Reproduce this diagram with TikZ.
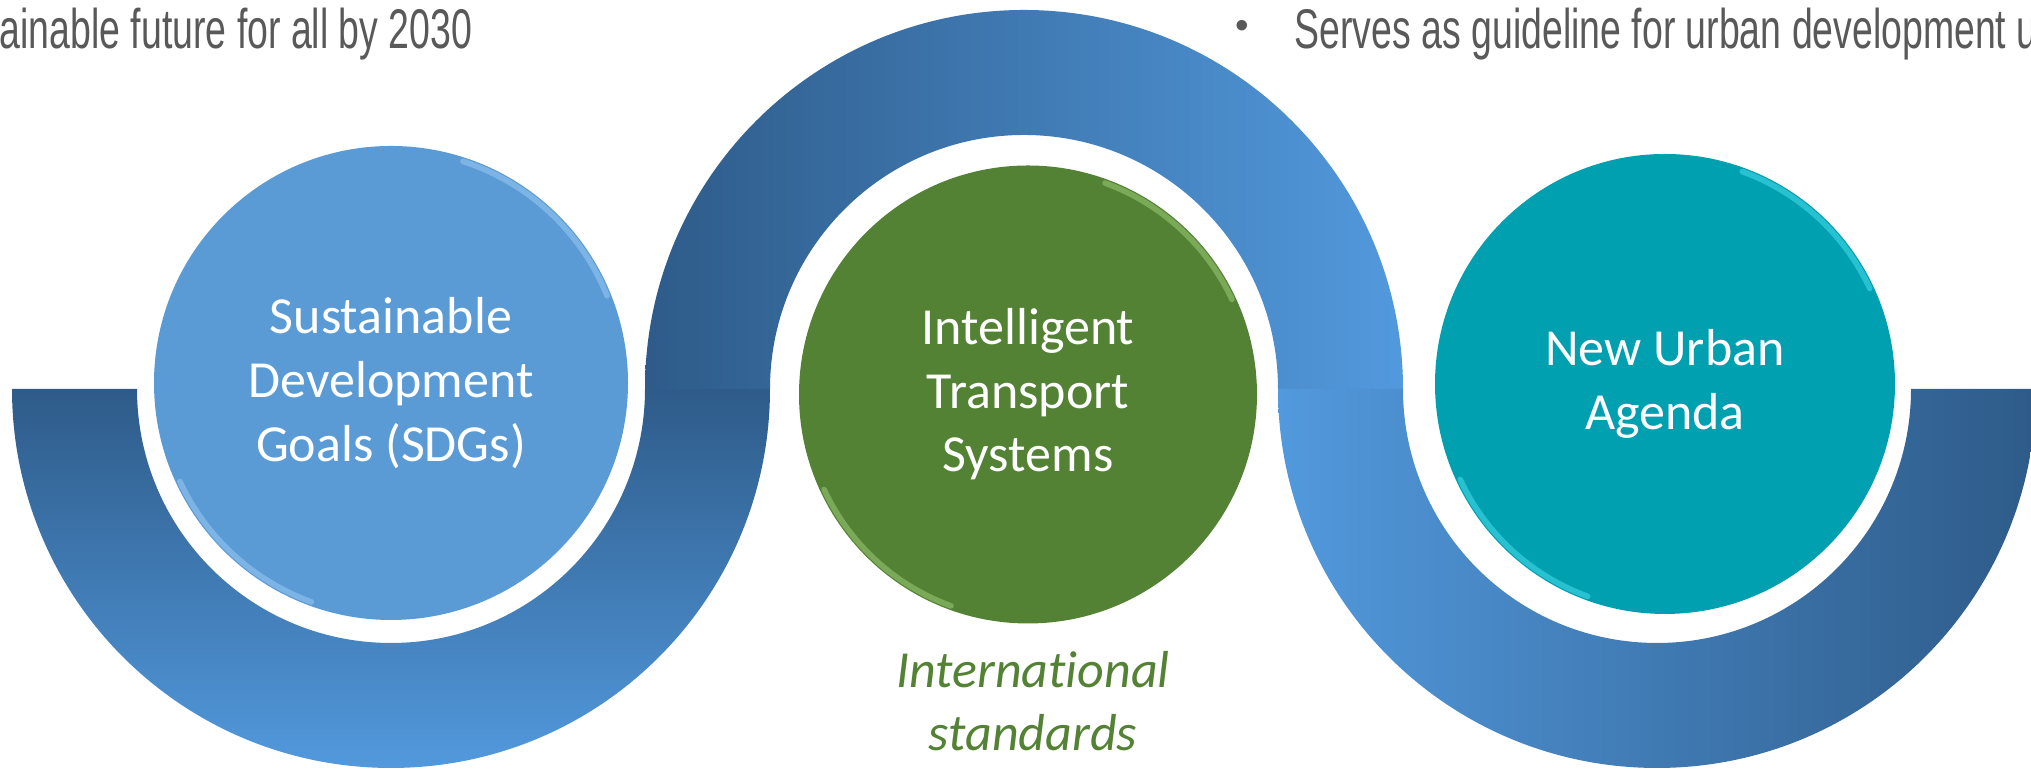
\documentclass[tikz,border=0pt]{standalone}
\usepackage{fontspec}
\setmainfont[Ligatures=CommonOff]{Carlito}
\newfontfamily\headfont[FakeStretch=0.67]{Liberation Sans}
\newfontfamily\dotfont{Liberation Sans}
\definecolor{ringdark}{RGB}{46,91,137}
\definecolor{ringlight}{RGB}{82,153,221}
\definecolor{sdgblue}{RGB}{91,155,213}
\definecolor{sdglight}{RGB}{160,205,248}
\definecolor{itsgreen}{RGB}{84,130,53}
\definecolor{itslight}{RGB}{160,208,122}
\definecolor{nuateal}{RGB}{0,160,177}
\definecolor{nualight}{RGB}{80,226,242}
\definecolor{headgray}{RGB}{89,89,89}
\tikzstyle{goal} = [circle, inner sep=0pt, text=white, align=center, font=\fontsize{14.8}{18.1}\selectfont]
\tikzstyle{rim} = [line width=1.6pt, line cap=round, opacity=0.5]
\tikzstyle{headline} = [text=headgray, inner sep=0pt, font=\headfont\fontsize{15.9}{19}\selectfont]

\begin{document}
\begin{tikzpicture}
      \useasboundingbox (0,0) rectangle (20.31,7.72);
      \clip (0,0) rectangle (20.31,7.72);

      \shade[top color=ringdark, bottom color=ringlight] (0.12,3.83) arc[start angle=180, end angle=360, radius=3.79] -- (6.45,3.83) arc[start angle=0, end angle=-180, radius=2.54] -- cycle;
      \shade[left color=ringdark, right color=ringlight] (6.45,3.83) arc[start angle=180, end angle=0, radius=3.79] -- (12.78,3.83) arc[start angle=0, end angle=180, radius=2.54] -- cycle;
      \shade[left color=ringlight, right color=ringdark] (12.78,3.83) arc[start angle=180, end angle=360, radius=3.79] -- (19.11,3.83) arc[start angle=0, end angle=-180, radius=2.54] -- cycle;

      \node[goal, fill=sdgblue, minimum size=4.74cm] (sdg) at (3.91,3.89) {Sustainable\\Development\\Goals (SDGs)};
      \node[goal, fill=itsgreen, minimum size=4.58cm] (its) at (10.28,3.775) {Intelligent\\Transport\\Systems};
      \node[goal, fill=nuateal, minimum size=4.60cm] (nua) at (16.65,3.88) {New Urban\\Agenda};
      \node[text=itsgreen, align=center, font=\itshape\fontsize{14.8}{18.1}\selectfont] (standards) at (10.33,0.71) {International\\standards};

      \draw[rim, sdglight] ([shift={(22:2.33)}]sdg.center) arc[start angle=22, end angle=72, radius=2.33];
      \draw[rim, sdglight] ([shift={(205:2.33)}]sdg.center) arc[start angle=205, end angle=250, radius=2.33];
      \draw[rim, itslight] ([shift={(25:2.25)}]its.center) arc[start angle=25, end angle=70, radius=2.25];
      \draw[rim, itslight] ([shift={(205:2.25)}]its.center) arc[start angle=205, end angle=250, radius=2.25];
      \draw[rim, nualight] ([shift={(25:2.26)}]nua.center) arc[start angle=25, end angle=70, radius=2.26];
      \draw[rim, nualight] ([shift={(205:2.26)}]nua.center) arc[start angle=205, end angle=250, radius=2.26];

      \node[headline, anchor=base east] (future) at (4.73,7.23) {sustainable future for all by 2030};
      \node[text=headgray, inner sep=0pt, font=\dotfont\fontsize{11}{13}\selectfont] (bullet) at (12.42,7.42) {•};
      \node[headline, anchor=base west] (guide) at (12.94,7.23) {Serves as guideline for urban development u};
\end{tikzpicture}
\end{document}
